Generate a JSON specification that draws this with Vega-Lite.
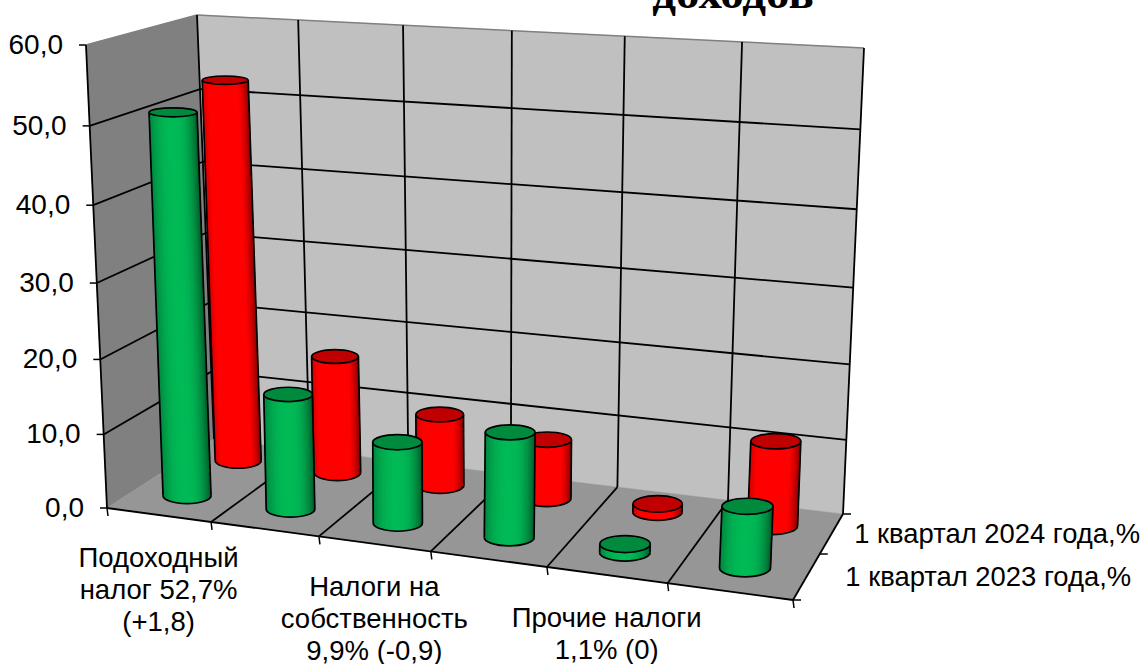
{
"$schema":"https://vega.github.io/schema/vega-lite/v6.json",
"width":1145,"height":664,"padding":0,"autosize":{"type":"none"},
"background":"white",
"config":{"view":{"stroke":null}},
"data":{"values":[
{"kind":"back","i":0,"c":0,"d":1,"v":60},{"kind":"back","i":1,"c":6,"d":1,"v":60},{"kind":"back","i":2,"c":6,"d":1,"v":0},{"kind":"back","i":3,"c":0,"d":1,"v":0},
{"kind":"left","i":0,"c":0,"d":0,"v":60},{"kind":"left","i":1,"c":0,"d":1,"v":60},{"kind":"left","i":2,"c":0,"d":1,"v":0},{"kind":"left","i":3,"c":0,"d":0,"v":0},
{"kind":"floor","i":0,"c":0,"d":0,"v":0},{"kind":"floor","i":1,"c":6,"d":0,"v":0},{"kind":"floor","i":2,"c":6,"d":1,"v":0},{"kind":"floor","i":3,"c":0,"d":1,"v":0},
{"kind":"edge","c":0,"d":0,"v":60,"c2":0,"d2":1,"v2":60},{"kind":"edge","c":0,"d":1,"v":60,"c2":6,"d2":1,"v2":60},
{"kind":"grid","c":1,"d":1,"v":0,"c2":1,"d2":1,"v2":60},{"kind":"grid","c":2,"d":1,"v":0,"c2":2,"d2":1,"v2":60},{"kind":"grid","c":3,"d":1,"v":0,"c2":3,"d2":1,"v2":60},{"kind":"grid","c":4,"d":1,"v":0,"c2":4,"d2":1,"v2":60},{"kind":"grid","c":5,"d":1,"v":0,"c2":5,"d2":1,"v2":60},{"kind":"grid","c":6,"d":1,"v":0,"c2":6,"d2":1,"v2":60},{"kind":"grid","c":0,"d":1,"v":0,"c2":0,"d2":1,"v2":60},{"kind":"grid","c":0,"d":0,"v":0,"c2":0,"d2":0,"v2":60},
{"kind":"grid","c":0,"d":1,"v":10,"c2":6,"d2":1,"v2":10},{"kind":"grid","c":0,"d":1,"v":20,"c2":6,"d2":1,"v2":20},{"kind":"grid","c":0,"d":1,"v":30,"c2":6,"d2":1,"v2":30},{"kind":"grid","c":0,"d":1,"v":40,"c2":6,"d2":1,"v2":40},{"kind":"grid","c":0,"d":1,"v":50,"c2":6,"d2":1,"v2":50},
{"kind":"grid","c":0,"d":0,"v":10,"c2":0,"d2":1,"v2":10},{"kind":"grid","c":0,"d":0,"v":20,"c2":0,"d2":1,"v2":20},{"kind":"grid","c":0,"d":0,"v":30,"c2":0,"d2":1,"v2":30},{"kind":"grid","c":0,"d":0,"v":40,"c2":0,"d2":1,"v2":40},{"kind":"grid","c":0,"d":0,"v":50,"c2":0,"d2":1,"v2":50},
{"kind":"grid","c":1,"d":0,"v":0,"c2":1,"d2":1,"v2":0},{"kind":"grid","c":2,"d":0,"v":0,"c2":2,"d2":1,"v2":0},{"kind":"grid","c":3,"d":0,"v":0,"c2":3,"d2":1,"v2":0},{"kind":"grid","c":4,"d":0,"v":0,"c2":4,"d2":1,"v2":0},{"kind":"grid","c":5,"d":0,"v":0,"c2":5,"d2":1,"v2":0},{"kind":"grid","c":0,"d":0,"v":0,"c2":6,"d2":0,"v2":0},{"kind":"grid","c":6,"d":0,"v":0,"c2":6,"d2":1,"v2":0},
{"kind":"ticky","c":0,"d":0,"v":0},{"kind":"ticky","c":0,"d":0,"v":10},{"kind":"ticky","c":0,"d":0,"v":20},{"kind":"ticky","c":0,"d":0,"v":30},{"kind":"ticky","c":0,"d":0,"v":40},{"kind":"ticky","c":0,"d":0,"v":50},{"kind":"ticky","c":0,"d":0,"v":60},
{"kind":"tickc","c":0,"d":0,"v":0},{"kind":"tickc","c":1,"d":0,"v":0},{"kind":"tickc","c":2,"d":0,"v":0},{"kind":"tickc","c":3,"d":0,"v":0},{"kind":"tickc","c":4,"d":0,"v":0},{"kind":"tickc","c":5,"d":0,"v":0},{"kind":"tickc","c":6,"d":0,"v":0},
{"kind":"tickd","c":6,"d":0,"v":0},{"kind":"tickd","c":6,"d":0.5,"v":0},{"kind":"tickd","c":6,"d":1,"v":0},
{"kind":"title","c":5,"d":1,"v":60,"label":"доходов"},
{"kind":"yl","c":0,"d":0,"v":0,"label":"0,0"},{"kind":"yl","c":0,"d":0,"v":10,"label":"10,0"},{"kind":"yl","c":0,"d":0,"v":20,"label":"20,0"},{"kind":"yl","c":0,"d":0,"v":30,"label":"30,0"},{"kind":"yl","c":0,"d":0,"v":40,"label":"40,0"},{"kind":"yl","c":0,"d":0,"v":50,"label":"50,0"},{"kind":"yl","c":0,"d":0,"v":60,"label":"60,0"},
{"kind":"cl","c":0.5,"d":0,"v":0,"label":"Подоходный\nналог 52,7%\n(+1,8)"},{"kind":"cl","c":2.5,"d":0,"v":0,"label":"Налоги на\nсобственность\n9,9% (-0,9)"},{"kind":"cl","c":4.5,"d":0,"v":0,"label":"Прочие налоги\n1,1% (0)"},
{"kind":"sl","c":6,"d":0.25,"v":0,"label":"1 квартал 2023 года,%"},{"kind":"sl","c":6,"d":0.75,"v":0,"label":"1 квартал 2024 года,%"},
{"kind":"bar","cat":1,"series":"2023","value":50.9},{"kind":"bar","cat":2,"series":"2023","value":15.5},{"kind":"bar","cat":3,"series":"2023","value":10.8},{"kind":"bar","cat":4,"series":"2023","value":13.8},{"kind":"bar","cat":5,"series":"2023","value":1.1},{"kind":"bar","cat":6,"series":"2023","value":7.9},
{"kind":"bar","cat":1,"series":"2024","value":52.7},{"kind":"bar","cat":2,"series":"2024","value":16.4},{"kind":"bar","cat":3,"series":"2024","value":9.9},{"kind":"bar","cat":4,"series":"2024","value":8.1},{"kind":"bar","cat":5,"series":"2024","value":1.1},{"kind":"bar","cat":6,"series":"2024","value":11.3}
]},
"transform":[
{"calculate":"datum.kind=='bar'?datum.cat-0.5:datum.c","as":"cA"},
{"calculate":"datum.kind=='bar'?(datum.series=='2024'?0.75:0.25):datum.d","as":"dA"},
{"calculate":"datum.kind=='bar'?0:datum.v","as":"vA"},
{"calculate":"datum.kind=='bar'?datum.cA:datum.c2","as":"cB"},
{"calculate":"datum.kind=='bar'?datum.dA:datum.d2","as":"dB"},
{"calculate":"datum.kind=='bar'?datum.value:datum.v2","as":"vB"},
{"calculate":"(datum.cA/6)*0.894/(1-0.106*datum.cA/6)","as":"ct"},
{"calculate":"datum.dA*1.15/(1+0.15*datum.dA)","as":"dt"},
{"calculate":"(datum.vA/60)*0.945/(1-0.055*datum.vA/60)","as":"vt"},
{"calculate":"(1-datum.vt)*((1-datum.dt)*(107+datum.ct*686)+datum.dt*(214+datum.ct*629))+datum.vt*((1-datum.dt)*(86+datum.ct*732)+datum.dt*(197+datum.ct*667))","as":"px"},
{"calculate":"(1-datum.vt)*((1-datum.dt)*(508+datum.ct*92)+datum.dt*(439+datum.ct*75))+datum.vt*((1-datum.dt)*(45+datum.ct*46)+datum.dt*(15+datum.ct*33))","as":"py"},
{"calculate":"(datum.cB/6)*0.894/(1-0.106*datum.cB/6)","as":"ctB"},
{"calculate":"datum.dB*1.15/(1+0.15*datum.dB)","as":"dtB"},
{"calculate":"(datum.vB/60)*0.945/(1-0.055*datum.vB/60)","as":"vtB"},
{"calculate":"(1-datum.vtB)*((1-datum.dtB)*(107+datum.ctB*686)+datum.dtB*(214+datum.ctB*629))+datum.vtB*((1-datum.dtB)*(86+datum.ctB*732)+datum.dtB*(197+datum.ctB*667))","as":"px2"},
{"calculate":"(1-datum.vtB)*((1-datum.dtB)*(508+datum.ctB*92)+datum.dtB*(439+datum.ctB*75))+datum.vtB*((1-datum.dtB)*(45+datum.ctB*46)+datum.dtB*(15+datum.ctB*33))","as":"py2"},
{"calculate":"48-4*(datum.dA-0.25)+(datum.cat-1)*(0.6+0.4*(datum.dA-0.25))","as":"w"},
{"calculate":"datum.w*datum.w","as":"sz"},
{"calculate":"'M-1,0A1,'+format(0.34-0.003*datum.value,'.3f')+' 0 1 1 1,0A1,'+format(0.34-0.003*datum.value,'.3f')+' 0 1 1 -1,0Z'","as":"topShape"}
],
"encoding":{
"x":{"field":"px","type":"quantitative","axis":null,"scale":{"domain":[0,1145],"range":[0,1145],"nice":false,"zero":false}},
"y":{"field":"py","type":"quantitative","axis":null,"scale":{"domain":[0,664],"range":[0,664],"nice":false,"zero":false}}
},
"layer":[
{"transform":[{"filter":"datum.kind=='title'"}],"mark":{"type":"text","font":"Liberation Serif","fontWeight":"bold","fontSize":47,"align":"center","baseline":"alphabetic","dx":-9,"dy":-34,"color":"#000000"},"encoding":{"text":{"field":"label"}}},
{"transform":[{"filter":"datum.kind=='back'"}],"mark":{"type":"line","interpolate":"linear-closed","fill":"#c0c0c0","stroke":"#c0c0c0","strokeWidth":0.5},"encoding":{"order":{"field":"i"}}},
{"transform":[{"filter":"datum.kind=='left'"}],"mark":{"type":"line","interpolate":"linear-closed","fill":"#808080","stroke":"#808080","strokeWidth":0.5},"encoding":{"order":{"field":"i"}}},
{"transform":[{"filter":"datum.kind=='floor'"}],"mark":{"type":"line","interpolate":"linear-closed","fill":"#969696","stroke":"#969696","strokeWidth":0.5},"encoding":{"order":{"field":"i"}}},
{"transform":[{"filter":"datum.kind=='edge'"}],"mark":{"type":"rule","color":"#808080","strokeWidth":1.5},"encoding":{"x2":{"field":"px2"},"y2":{"field":"py2"}}},
{"transform":[{"filter":"datum.kind=='grid'"}],"mark":{"type":"rule","color":"#000000","strokeWidth":1.8},"encoding":{"x2":{"field":"px2"},"y2":{"field":"py2"}}},
{"transform":[{"filter":"datum.kind=='ticky'||datum.kind=='tickc'||datum.kind=='tickd'"},{"calculate":"datum.kind=='ticky'?datum.px-7:(datum.kind=='tickd'?datum.px+8:datum.px+1)","as":"tx"},{"calculate":"datum.kind=='tickc'?datum.py+8:datum.py","as":"ty"}],"mark":{"type":"rule","color":"#000000","strokeWidth":1.5},"encoding":{"x2":{"field":"tx"},"y2":{"field":"ty"}}},
{"transform":[{"filter":"datum.kind=='yl'"}],"mark":{"type":"text","font":"Liberation Sans","fontSize":28,"align":"right","baseline":"middle","dx":-23,"dy":1,"color":"#000000"},"encoding":{"text":{"field":"label"}}},
{"transform":[{"filter":"datum.kind=='cl'"}],"mark":{"type":"text","font":"Liberation Sans","fontSize":27.5,"align":"center","baseline":"top","dy":30,"lineBreak":"\n","lineHeight":32,"color":"#000000"},"encoding":{"text":{"field":"label"}}},
{"transform":[{"filter":"datum.kind=='sl'"},{"calculate":"datum.px+38.5-32*(datum.dA-0.25)","as":"tx"}],"mark":{"type":"text","font":"Liberation Sans","fontSize":27.4,"align":"left","baseline":"middle","dy":2,"color":"#000000"},"encoding":{"x":{"field":"tx","type":"quantitative"},"text":{"field":"label"}}},

{"transform":[{"filter":"datum.kind=='bar'&&datum.series=='2024'"},{"calculate":"[-0.958,-0.875,-0.792,-0.708,-0.625,-0.542,-0.458,-0.375,-0.292,-0.208,-0.125,-0.042,0.042,0.125,0.208,0.292,0.375,0.458,0.542,0.625,0.708,0.792,0.875,0.958]","as":"s"},{"flatten":["s"]},{"calculate":"datum.px+datum.s*datum.w/2","as":"sx"},{"calculate":"datum.px2+datum.s*datum.w/2","as":"sx2"},{"calculate":"datum.py+0.17*datum.w*sqrt(max(0,1-datum.s*datum.s))","as":"sy"},{"calculate":"datum.w/24+0.8","as":"sw"},{"calculate":"'rgb('+round(255*min(1,1.15-(datum.s<0?0.35:0.6)*pow(abs(datum.s),2.5)))+',0,0)'","as":"col"}],"mark":{"type":"rule"},"encoding":{"x":{"field":"sx","type":"quantitative"},"y":{"field":"sy","type":"quantitative"},"x2":{"field":"sx2"},"y2":{"field":"py2"},"strokeWidth":{"field":"sw","type":"quantitative","scale":null,"legend":null},"color":{"field":"col","type":"nominal","scale":null,"legend":null}}},
{"transform":[{"filter":"datum.kind=='bar'&&datum.series=='2024'"},{"calculate":"[-1,1]","as":"s"},{"flatten":["s"]},{"calculate":"datum.px+datum.s*datum.w/2","as":"sx"},{"calculate":"datum.px2+datum.s*datum.w/2","as":"sx2"}],"mark":{"type":"rule","color":"#000000","strokeWidth":1.7},"encoding":{"x":{"field":"sx","type":"quantitative"},"x2":{"field":"sx2"},"y2":{"field":"py2"}}},
{"transform":[{"filter":"datum.kind=='bar'&&datum.series=='2024'"}],"mark":{"type":"point","filled":false,"stroke":"#000000","strokeWidth":1.7,"opacity":1,"shape":"M-1,0A1,0.34 0 0 0 1,0"},"encoding":{"size":{"field":"sz","type":"quantitative","scale":null,"legend":null}}},
{"transform":[{"filter":"datum.kind=='bar'&&datum.series=='2024'"}],"mark":{"type":"point","filled":true,"fill":"#c00000","stroke":"#000000","strokeWidth":1.7,"opacity":1},"encoding":{"x":{"field":"px2","type":"quantitative"},"y":{"field":"py2","type":"quantitative"},"shape":{"field":"topShape","type":"nominal","scale":null,"legend":null},"size":{"field":"sz","type":"quantitative","scale":null,"legend":null}}},

{"transform":[{"filter":"datum.kind=='bar'&&datum.series=='2023'"},{"calculate":"[-0.958,-0.875,-0.792,-0.708,-0.625,-0.542,-0.458,-0.375,-0.292,-0.208,-0.125,-0.042,0.042,0.125,0.208,0.292,0.375,0.458,0.542,0.625,0.708,0.792,0.875,0.958]","as":"s"},{"flatten":["s"]},{"calculate":"datum.px+datum.s*datum.w/2","as":"sx"},{"calculate":"datum.px2+datum.s*datum.w/2","as":"sx2"},{"calculate":"datum.py+0.17*datum.w*sqrt(max(0,1-datum.s*datum.s))","as":"sy"},{"calculate":"datum.w/24+0.8","as":"sw"},{"calculate":"1-(datum.s<0?0.3:0.5)*pow(abs(datum.s),2.5)","as":"f"},{"calculate":"'rgb(0,'+round(186*datum.f)+','+round(86*datum.f)+')'","as":"col"}],"mark":{"type":"rule"},"encoding":{"x":{"field":"sx","type":"quantitative"},"y":{"field":"sy","type":"quantitative"},"x2":{"field":"sx2"},"y2":{"field":"py2"},"strokeWidth":{"field":"sw","type":"quantitative","scale":null,"legend":null},"color":{"field":"col","type":"nominal","scale":null,"legend":null}}},
{"transform":[{"filter":"datum.kind=='bar'&&datum.series=='2023'"},{"calculate":"[-1,1]","as":"s"},{"flatten":["s"]},{"calculate":"datum.px+datum.s*datum.w/2","as":"sx"},{"calculate":"datum.px2+datum.s*datum.w/2","as":"sx2"}],"mark":{"type":"rule","color":"#000000","strokeWidth":1.7},"encoding":{"x":{"field":"sx","type":"quantitative"},"x2":{"field":"sx2"},"y2":{"field":"py2"}}},
{"transform":[{"filter":"datum.kind=='bar'&&datum.series=='2023'"}],"mark":{"type":"point","filled":false,"stroke":"#000000","strokeWidth":1.7,"opacity":1,"shape":"M-1,0A1,0.34 0 0 0 1,0"},"encoding":{"size":{"field":"sz","type":"quantitative","scale":null,"legend":null}}},
{"transform":[{"filter":"datum.kind=='bar'&&datum.series=='2023'"}],"mark":{"type":"point","filled":true,"fill":"#008a3e","stroke":"#000000","strokeWidth":1.7,"opacity":1},"encoding":{"x":{"field":"px2","type":"quantitative"},"y":{"field":"py2","type":"quantitative"},"shape":{"field":"topShape","type":"nominal","scale":null,"legend":null},"size":{"field":"sz","type":"quantitative","scale":null,"legend":null}}}
]
}
